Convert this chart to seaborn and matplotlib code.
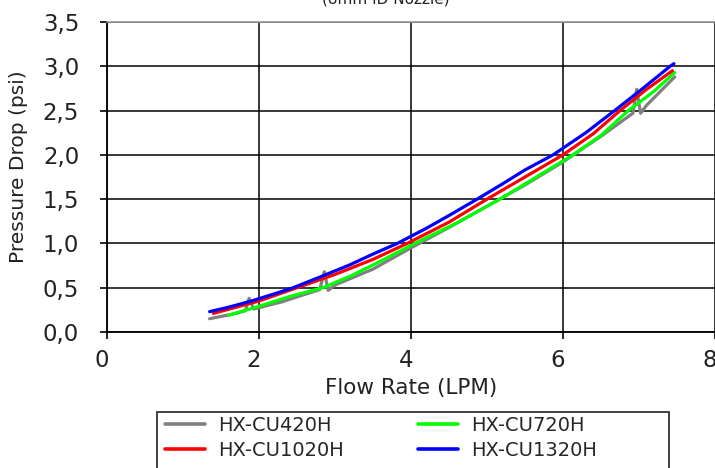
import pandas as pd
import matplotlib
matplotlib.use('Agg')
import matplotlib.pyplot as plt
import matplotlib.transforms as mtransforms
from matplotlib.patches import Rectangle
from matplotlib.ticker import FuncFormatter
import seaborn as sns

# Curves (flow rate LPM -> pressure drop psi)
x_gray = [1.35, 1.7, 1.82, 1.87, 1.93, 2.3, 2.8, 2.86, 2.91, 3.0, 3.5, 4.0, 4.5,
          5.0, 5.5, 6.0, 6.5, 6.92, 6.97, 7.02, 7.1, 7.47]
y_gray = [0.15, 0.21, 0.24, 0.38, 0.26, 0.34, 0.48, 0.68, 0.47, 0.53, 0.71, 0.95, 1.18,
          1.42, 1.66, 1.92, 2.21, 2.47, 2.74, 2.47, 2.56, 2.88]

x_green = [1.60, 2.0, 2.4, 2.84, 3.2, 3.6, 4.05, 4.6, 5.17, 5.65, 6.13, 6.5, 6.86, 7.2, 7.47]
y_green = [0.19, 0.29, 0.40, 0.50, 0.63, 0.80, 1.00, 1.23, 1.50, 1.75, 2.00, 2.22, 2.50, 2.72, 2.93]

x_red = [1.40, 1.7, 2.0, 2.5, 3.0, 3.5, 3.95, 4.5, 5.0, 5.5, 6.0, 6.4, 6.75, 7.1, 7.44]
y_red = [0.21, 0.28, 0.35, 0.50, 0.65, 0.82, 1.00, 1.24, 1.50, 1.75, 2.00, 2.24, 2.50, 2.74, 2.95]

x_blue = [1.35, 1.6, 1.9, 2.2, 2.45, 2.8, 3.2, 3.5, 3.82, 4.2, 4.51, 4.87, 5.2, 5.5,
          5.87, 6.3, 6.68, 7.05, 7.41, 7.46]
y_blue = [0.23, 0.28, 0.35, 0.43, 0.50, 0.62, 0.76, 0.88, 1.00, 1.17, 1.32, 1.50, 1.67, 1.83,
          2.00, 2.25, 2.50, 2.75, 3.00, 3.03]

series = ['HX-CU420H', 'HX-CU720H', 'HX-CU1020H', 'HX-CU1320H']
colors = ['#808080', '#00ff00', '#ff0000', '#0000ff']
x_ticks = [0, 2, 4, 6, 8]
y_ticks = [0.0, 0.5, 1.0, 1.5, 2.0, 2.5, 3.0, 3.5]

frames = []
for name, xs, ys in zip(series, [x_gray, x_green, x_red, x_blue], [y_gray, y_green, y_red, y_blue]):
    frames.append(pd.DataFrame({'flow': xs, 'dp': ys, 'model': name}))
df = pd.concat(frames, ignore_index=True)

sns.set_style('white')
plt.rcParams['font.family'] = ['DejaVu Sans']

fig = plt.figure(figsize=(7.15, 4.68), dpi=100)
ax = fig.add_axes([107 / 715, 1 - 332 / 468, 608 / 715, 310 / 468])

sns.lineplot(data=df, x='flow', y='dp', hue='model', hue_order=series,
             palette=dict(zip(series, colors)), estimator=None, sort=False,
             linewidth=2.3, ax=ax, legend=False)

ax.set_xlim(0, 8)
ax.set_ylim(0, 3.5)
ax.set_xticks(x_ticks)
ax.set_yticks(y_ticks)
ax.yaxis.set_major_formatter(FuncFormatter(lambda v, p: f'{v:.1f}'.replace('.', ',')))
ax.grid(True, color='black', linewidth=1.1)
ax.set_axisbelow(True)

for side in ['left', 'bottom']:
    ax.spines[side].set_color('black')
    ax.spines[side].set_linewidth(1.3)
ax.spines['top'].set_color('#999999')
ax.spines['top'].set_linewidth(1.2)
ax.spines['right'].set_visible(False)

ax.tick_params(axis='both', direction='out', length=5, width=1.2, color='black',
               labelsize=16.5, labelcolor='#222222')
ax.tick_params(axis='x', pad=7, bottom=True)
ax.tick_params(axis='y', pad=15, left=True)

# labels in the reference sit a little left of their ticks
shift = mtransforms.ScaledTranslation(-5 / 100, 0, fig.dpi_scale_trans)
for lab in ax.get_xticklabels():
    lab.set_transform(lab.get_transform() + shift)

ax.set_xlabel('Flow Rate (LPM)', fontsize=15.5, color='#222222')
ax.set_ylabel('Pressure Drop (psi)', fontsize=14.5, color='#222222')
ax.xaxis.set_label_coords(0.5, -0.148)
ax.yaxis.set_label_coords(-0.130, 0.532)

fig.text(386 / 715, 1 - 3 / 468, '(8mm ID Nozzle)', ha='center', va='baseline',
         fontsize=11, color='#222222')

# legend, column-major order so rows read 420/720 then 1020/1320
lines = ax.get_lines()
by_name = {}
for ln in lines:
    c = matplotlib.colors.to_hex(ln.get_color())
    if c in colors:
        by_name[series[colors.index(c)]] = ln
order = ['HX-CU420H', 'HX-CU1020H', 'HX-CU720H', 'HX-CU1320H']
handles = [plt.Line2D([], [], color=by_name[n].get_color(), linewidth=2.6) for n in order]
fig.legend(handles, order, loc='upper left', bbox_to_anchor=(165 / 715, 1 - 416 / 468),
           ncol=2, frameon=False, fontsize=14, handlelength=2.06, handletextpad=0.67,
           columnspacing=3.8, labelspacing=0.32, borderpad=0, borderaxespad=0)
fig.patches.append(Rectangle((157 / 715, -0.05), 512 / 715, 0.05 + 1 - 412 / 468,
                             transform=fig.transFigure, fill=False, edgecolor='#222222',
                             linewidth=1.2))

fig.savefig('out.png', dpi=100)
